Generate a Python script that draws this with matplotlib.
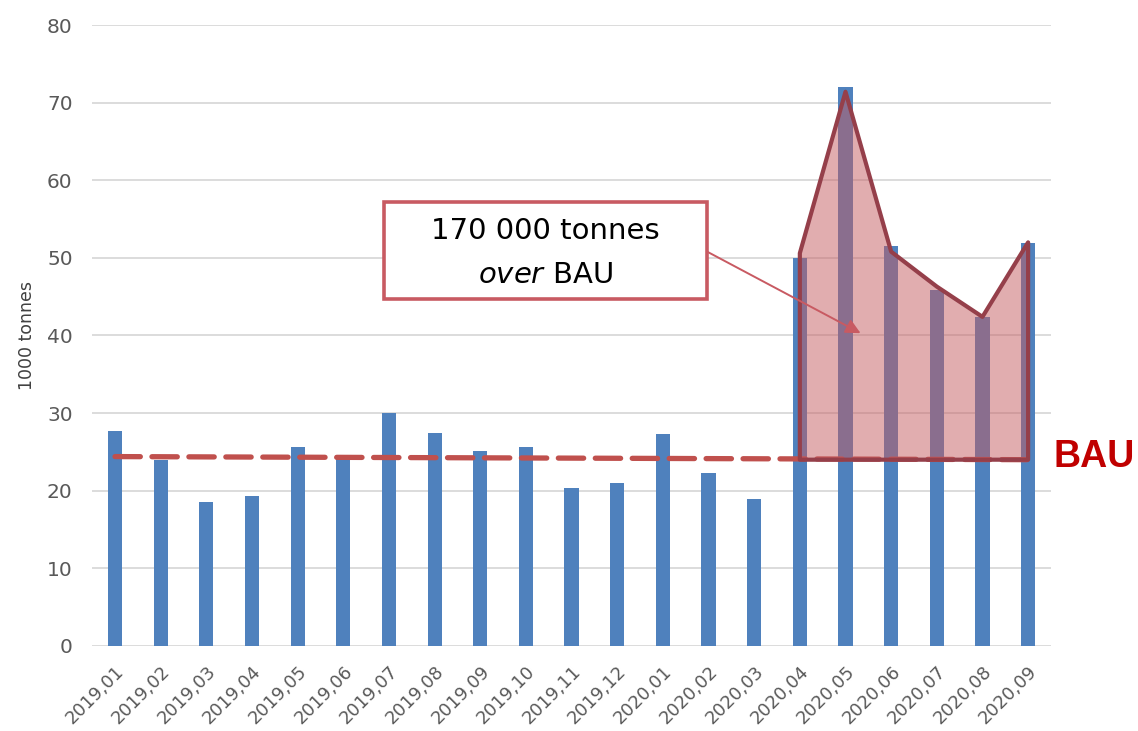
import matplotlib.pyplot as plt
from matplotlib.patches import Polygon, Rectangle
import numpy as np

months = ['2019,01', '2019,02', '2019,03', '2019,04', '2019,05', '2019,06', '2019,07',
          '2019,08', '2019,09', '2019,10', '2019,11', '2019,12', '2020,01', '2020,02',
          '2020,03', '2020,04', '2020,05', '2020,06', '2020,07', '2020,08', '2020,09']
tonnes = [27.7, 24.0, 18.5, 19.3, 25.6, 24.4, 30.0, 27.4, 25.1, 25.6, 20.3,
          21.0, 27.3, 22.3, 18.9, 50.0, 72.0, 51.5, 45.9, 42.4, 51.9]
bau_ends = [24.4, 24.0]          # BAU trend, first and last month
excess_months = [15, 16, 17, 18, 19, 20]   # 2020,04 .. 2020,09
excess_top = [50.6, 71.4, 50.8, 46.3, 42.4, 52.0]
excess_base = 24.0

plt.rcParams['font.family'] = ['DejaVu Sans']
plt.rcParams['mathtext.fontset'] = 'custom'
plt.rcParams['mathtext.it'] = 'DejaVu Sans:italic'
plt.rcParams['mathtext.rm'] = 'DejaVu Sans'

fig = plt.figure(figsize=(11.38, 7.31), dpi=100)
ax = fig.add_axes([0.081, 0.1163, 0.8425, 0.8495])

x = np.arange(len(months))
ax.bar(x, tonnes, width=0.31, color='#4f81bd', zorder=2)

# BAU dashed trend
ax.plot([x[0], x[-1]], bau_ends, color='#c0504d', lw=3.8, ls=(0, (4.8, 2.2)),
        dash_capstyle='round', zorder=3)

# shaded excess over BAU
pts = [(excess_months[0], excess_base)] + list(zip(excess_months, excess_top)) + \
      [(excess_months[-1], excess_base)]
ax.add_patch(Polygon(pts, closed=True, facecolor='#c55d61', alpha=0.5, lw=0, zorder=4))
ax.add_patch(Polygon(pts, closed=True, fill=False, edgecolor='#953f4a', lw=3,
                     joinstyle='round', zorder=5))

ax.set_xlim(-0.5, len(months) - 0.5)
ax.set_ylim(0, 80)
ax.set_yticks(np.arange(0, 81, 10))
ax.set_xticks(x)
ax.set_xticklabels(months, rotation=45, ha='right', rotation_mode='anchor',
                   fontsize=13, color='#595959')
ax.tick_params(axis='y', labelsize=14.5, labelcolor='#595959', length=0, pad=14)
ax.tick_params(axis='x', length=0, pad=12)
ax.grid(True, axis='y', color='#d9d9d9', lw=1.3, zorder=0)
ax.set_axisbelow(True)
for s in ax.spines.values():
    s.set_visible(False)
ax.set_ylabel('1000 tonnes', fontsize=12.5, color='#404040', labelpad=8)

# annotation box
ax.add_patch(Rectangle((0.304, 0.558), 0.3375, 0.1565, transform=ax.transAxes,
                       facecolor='white', edgecolor='#c85a62', lw=2.6, zorder=6))
ax.text(0.473, 0.668, '170 000 tonnes', transform=ax.transAxes, ha='center',
        va='center', fontsize=21, color='black', zorder=7)
ax.text(0.473, 0.598, r'$\it{over}$ BAU', transform=ax.transAxes, ha='center',
        va='center', fontsize=21, color='black', zorder=7)
ax.annotate('', xy=(16.33, 40.3), xytext=(12.97, 50.8),
            arrowprops=dict(arrowstyle='-|>', color='#c85a62', lw=1.4,
                            mutation_scale=22, shrinkA=0, shrinkB=0), zorder=6)

ax.text(20.55, 24.3, 'BAU', fontsize=27, fontweight='bold', color='#c00000',
        ha='left', va='center', clip_on=False,
        family='Liberation Sans')

fig.savefig('out.png', dpi=100)
